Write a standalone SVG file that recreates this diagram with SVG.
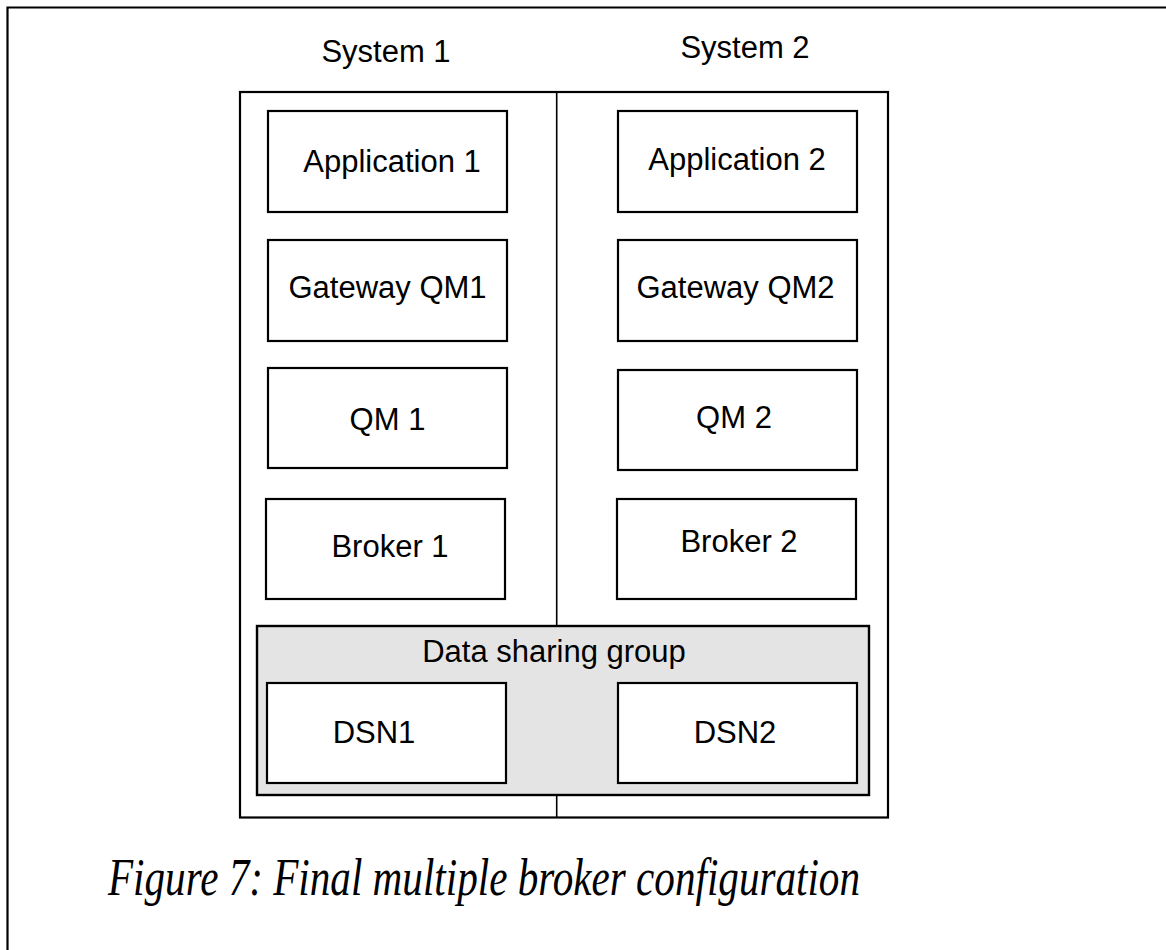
<svg xmlns="http://www.w3.org/2000/svg" width="1166" height="950" viewBox="0 0 1166 950">
  <style>
    .box { fill: #ffffff; stroke: #000000; stroke-width: 2.2; }
    .frame { fill: none; stroke: #000000; stroke-width: 2.2; }
    .group { fill: #e4e4e4; stroke: #000000; stroke-width: 2.4; }
    .div { stroke: #000000; stroke-width: 1.6; fill: none; }
    .lbl { font-family: "Liberation Sans", Arial, sans-serif; font-size: 31px; fill: #000000; text-anchor: middle; }
    .cap { font-family: "Liberation Serif", "Times New Roman", serif; font-style: italic; font-size: 53px; fill: #000000; }
  </style>

  <!-- page frame (top and left rules only) -->
  <g id="page-frame">
    <path class="frame" d="M7.5,950 V7.5 H1166"/>
  </g>

  <!-- column headings -->
  <g id="heading-system1"><text class="lbl" x="386" y="62">System 1</text></g>
  <g id="heading-system2"><text class="lbl" x="745" y="58">System 2</text></g>

  <!-- outer container holding both systems -->
  <g id="systems">
    <rect class="frame" x="240" y="92" width="648" height="725.5"/>
  </g>

  <!-- split between the two systems -->
  <g id="connectors">
    <line class="div" x1="556.7" y1="92" x2="556.7" y2="626"/>
    <line class="div" x1="556.7" y1="795" x2="556.7" y2="817.5"/>
  </g>

  <g id="app1">
    <rect class="box" x="268" y="111" width="239" height="101"/>
    <text class="lbl" x="392" y="172">Application 1</text>
  </g>
  <g id="app2">
    <rect class="box" x="618" y="111" width="239" height="101"/>
    <text class="lbl" x="737" y="170">Application 2</text>
  </g>

  <g id="gwqm1">
    <rect class="box" x="268" y="240" width="239" height="101"/>
    <text class="lbl" x="387.5" y="298">Gateway QM1</text>
  </g>
  <g id="gwqm2">
    <rect class="box" x="618" y="240" width="239" height="101"/>
    <text class="lbl" x="735.5" y="298">Gateway QM2</text>
  </g>

  <g id="qm1">
    <rect class="box" x="268" y="368" width="239" height="100"/>
    <text class="lbl" x="387.5" y="430">QM 1</text>
  </g>
  <g id="qm2">
    <rect class="box" x="618" y="370" width="239" height="100"/>
    <text class="lbl" x="734" y="428">QM 2</text>
  </g>

  <g id="broker1">
    <rect class="box" x="266" y="499" width="239" height="100"/>
    <text class="lbl" x="390" y="557">Broker 1</text>
  </g>
  <g id="broker2">
    <rect class="box" x="617" y="499" width="239" height="100"/>
    <text class="lbl" x="739" y="552">Broker 2</text>
  </g>

  <g id="data-sharing-group">
    <rect class="group" x="257" y="626" width="612" height="169"/>
    <text class="lbl" x="554" y="662">Data sharing group</text>
  </g>

  <g id="dsn1">
    <rect class="box" x="267" y="683" width="239" height="100"/>
    <text class="lbl" x="374" y="743">DSN1</text>
  </g>
  <g id="dsn2">
    <rect class="box" x="618" y="683" width="239" height="100"/>
    <text class="lbl" x="735" y="743">DSN2</text>
  </g>

  <g id="caption">
    <text class="cap" x="108" y="895" textLength="752" lengthAdjust="spacingAndGlyphs">Figure 7: Final multiple broker configuration</text>
  </g>
</svg>
